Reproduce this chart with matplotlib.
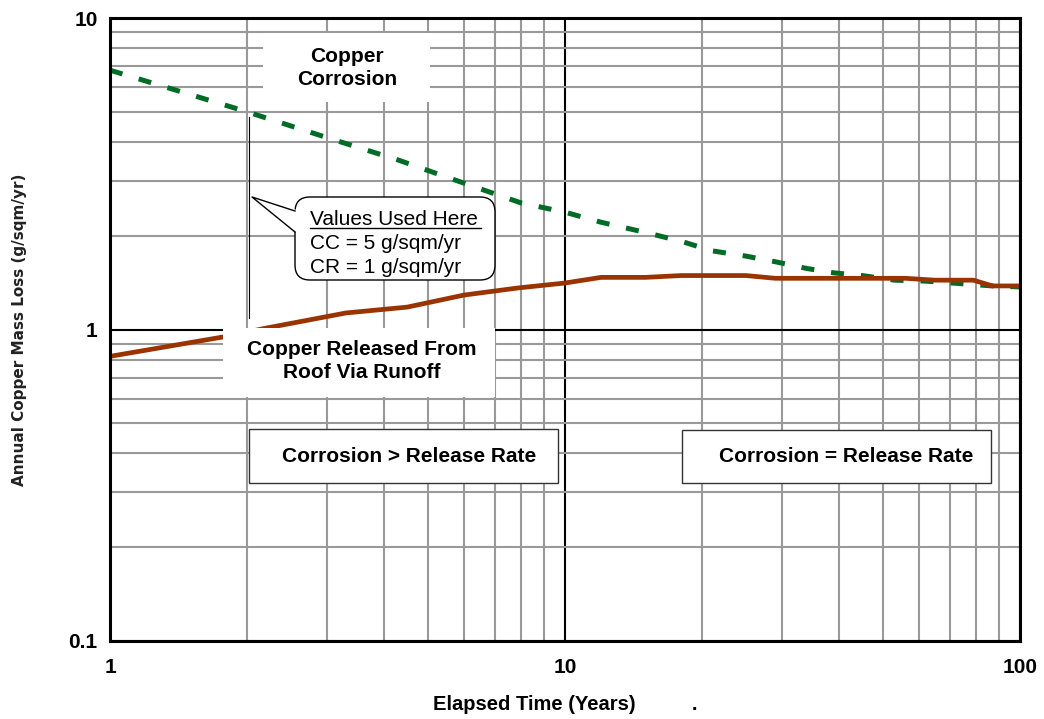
import matplotlib.pyplot as plt
from matplotlib.patches import Rectangle, FancyBboxPatch, Polygon
from matplotlib.lines import Line2D
from matplotlib.ticker import LogLocator, NullFormatter, FixedLocator, FixedFormatter
from matplotlib.transforms import Affine2D

plt.rcParams['font.family'] = ['Liberation Sans', 'DejaVu Sans']

# copper corrosion (dashed green)
years_cc = [1, 2, 3, 4.3, 6.2, 8, 10, 12, 15, 18, 21, 25, 29, 34, 39, 45, 53, 62, 87, 100]
corrosion = [6.8, 5.0, 4.13, 3.5, 2.9, 2.55, 2.38, 2.21, 2.05, 1.92, 1.79, 1.72, 1.65,
             1.57, 1.52, 1.49, 1.44, 1.43, 1.38, 1.37]

# copper released via runoff (solid brown)
years_cr = [1, 1.8, 2.2, 3.3, 4.5, 6, 7.9, 10, 12, 15, 18, 25, 29, 56, 65, 79, 87, 100]
release = [0.82, 0.95, 1.01, 1.13, 1.18, 1.29, 1.36, 1.41, 1.47, 1.47, 1.49, 1.49, 1.46,
           1.46, 1.44, 1.44, 1.38, 1.38]

x_ticks = [1, 10, 100]
x_tick_labels = ['1', '10', '100']
y_ticks = [0.1, 1, 10]
y_tick_labels = ['0.1', '1', '10']

W, H = 1044, 719
fig = plt.figure(figsize=(W / 100, H / 100), dpi=100)
L, R, T, B = 110, 1020, 18, 641
ax = fig.add_axes([L / W, 1 - B / H, (R - L) / W, (B - T) / H])

# pixel coords, origin top left
pix = Affine2D().scale(1 / W, -1 / H).translate(0, 1) + fig.transFigure

ax.set_xscale('log')
ax.set_yscale('log')
ax.set_xlim(1, 100)
ax.set_ylim(0.1, 10)

ax.xaxis.set_major_locator(FixedLocator(x_ticks))
ax.xaxis.set_major_formatter(FixedFormatter(x_tick_labels))
ax.yaxis.set_major_locator(FixedLocator(y_ticks))
ax.yaxis.set_major_formatter(FixedFormatter(y_tick_labels))
ax.xaxis.set_minor_locator(LogLocator(base=10, subs=range(2, 10)))
ax.yaxis.set_minor_locator(LogLocator(base=10, subs=range(2, 10)))
ax.xaxis.set_minor_formatter(NullFormatter())
ax.yaxis.set_minor_formatter(NullFormatter())

ax.grid(which='minor', color='#999999', lw=1.5)
ax.grid(which='major', color='black', lw=1.5)
ax.set_axisbelow(True)
ax.tick_params(which='both', length=0)
ax.tick_params(axis='x', pad=12, labelsize=15)
ax.tick_params(axis='y', pad=9, labelsize=15)
for lab in ax.get_xticklabels() + ax.get_yticklabels():
    lab.set_fontweight('bold')
for s in ax.spines.values():
    s.set_linewidth(2.2)
    s.set_color('black')

ax.plot(years_cc, corrosion, color='#006b24', lw=3.6, ls=(0, (2.6, 3.4)), zorder=2)
ax.plot(years_cr, release, color='#993300', lw=3.4, zorder=2)

ax.set_xlabel('Elapsed Time (Years)          .', fontsize=14.5, fontweight='bold')
ax.xaxis.set_label_coords(0.5, (B - 705) / (B - T))
ax.xaxis.label.set_va('center')
ax.set_ylabel('Annual Copper Mass Loss (g/sqm/yr)', fontsize=11, fontweight='bold',
              family='DejaVu Sans', color='#222222')
ax.yaxis.set_label_coords((20 - L) / (R - L), 0.5)
ax.yaxis.label.set_va('center')

# white label boxes
ax.add_patch(Rectangle((263, 33), 167, 69, transform=pix, fc='white', ec='none', zorder=3))
ax.text(347, 68, 'Copper\nCorrosion', transform=pix, ha='center', va='center',
        fontsize=15, fontweight='bold', linespacing=1.3, zorder=4)

ax.add_patch(Rectangle((223, 328), 272, 69, transform=pix, fc='white', ec='none', zorder=3))
ax.text(362, 361, 'Copper Released From\nRoof Via Runoff', transform=pix, ha='center',
        va='center', fontsize=15, fontweight='bold', linespacing=1.3, zorder=4)

ax.add_patch(Rectangle((249, 429), 309, 54, transform=pix, fc='white', ec='#333333',
                       lw=1, zorder=3))
ax.text(409, 456, 'Corrosion > Release Rate', transform=pix, ha='center', va='center',
        fontsize=15, fontweight='bold', zorder=4)

ax.add_patch(Rectangle((682, 430), 309, 53, transform=pix, fc='white', ec='#333333',
                       lw=1, zorder=3))
ax.text(846, 456, 'Corrosion = Release Rate', transform=pix, ha='center', va='center',
        fontsize=15, fontweight='bold', zorder=4)

# thin marker line near year 2
ax.add_line(Line2D([249, 249], [117, 318], transform=pix, color='black', lw=0.8, zorder=3))

# callout
box = FancyBboxPatch((295, 197), 200, 83, boxstyle='round,pad=0,rounding_size=15',
                     transform=pix, fc='white', ec='black', lw=1, zorder=3)
ax.add_patch(box)
ax.add_patch(Polygon([(252, 197), (297, 210), (297, 233)], closed=True, transform=pix,
                     fc='white', ec='none', zorder=3.1))
ax.add_line(Line2D([295, 252, 295], [211, 197, 232], transform=pix, color='black',
                   lw=1, zorder=3.2))
clip = Rectangle((295, 197), 200, 79, transform=pix, fc='none', ec='none')
ax.add_patch(clip)
for txt, yb in [('Values Used Here', 225), ('CC = 5 g/sqm/yr', 249), ('CR = 1 g/sqm/yr', 273)]:
    t = ax.text(310, yb, txt, transform=pix, ha='left', va='baseline', fontsize=15, zorder=4)
    t.set_clip_path(clip)
ax.add_line(Line2D([310, 481], [228, 228], transform=pix, color='black', lw=1, zorder=4))

fig.savefig('out.png', dpi=100)
